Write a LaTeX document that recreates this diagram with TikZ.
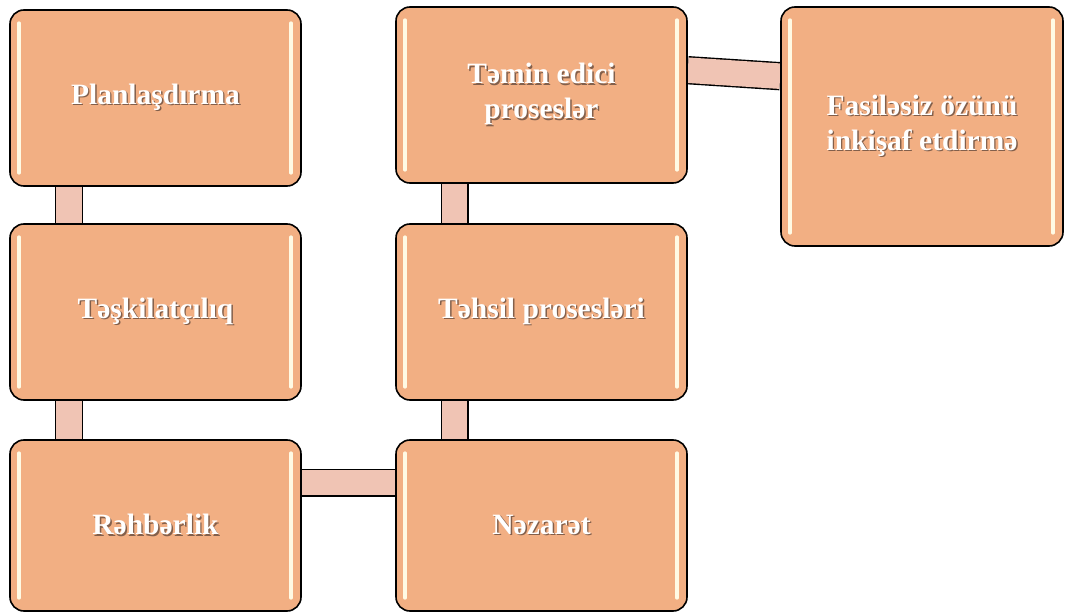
\documentclass[tikz,border=0pt]{standalone}
\usepackage{fontspec}
\setmainfont{Liberation Serif}
\usetikzlibrary{backgrounds}

\definecolor{boxfill}{RGB}{242,175,131}
\definecolor{barfill}{RGB}{240,196,180}
\definecolor{glint}{RGB}{255,250,228}
\definecolor{txtshade}{RGB}{130,95,75}
\newcommand{\shadetxt}[1]{\rlap{\hspace{1.4pt}\raisebox{-1.4pt}{\textcolor{txtshade}{#1}}}#1}

\tikzset{
  stage/.style={draw=black, line width=1.6pt, fill=boxfill, rounded corners=14pt,
    minimum width=291pt, minimum height=176pt, inner sep=0pt, align=center,
    text=white, font=\bfseries\fontsize{29.5}{35}\selectfont,
    path picture={
      \draw[glint, line width=3.2pt, line cap=round]
        ([xshift=9pt,yshift=-13pt]path picture bounding box.north west) --
        ([xshift=9pt,yshift=13pt]path picture bounding box.south west);
      \draw[glint, line width=3.2pt, line cap=round]
        ([xshift=-10pt,yshift=-13pt]path picture bounding box.north east) --
        ([xshift=-10pt,yshift=13pt]path picture bounding box.south east);
    }},
  link/.style={draw=black, line width=1.4pt, double=barfill, double distance=25.5pt}
}

\begin{document}
\begin{tikzpicture}[x=1pt,y=1pt]
\useasboundingbox (0,0) rectangle (1065,-612);
% left column
\node[stage] (plan) at (155.5,-98) {\shadetxt{Planlaşdırma}};
\node[stage] (teskil) at (155.5,-312) {\shadetxt{Təşkilatçılıq}};
\node[stage, minimum height=171pt] (rehber) at (155.5,-525.5) {\shadetxt{Rəhbərlik}};
% middle column
\node[stage] (temin) at (541.5,-95) {\shadetxt{Təmin edici}\\\shadetxt{proseslər}};
\node[stage] (tehsil) at (541.5,-312) {\shadetxt{Təhsil prosesləri}};
\node[stage, minimum height=171pt] (nezaret) at (541.5,-525.5) {\shadetxt{Nəzarət}};
% right
\node[stage, minimum width=282pt, minimum height=239pt] (fasil) at (922,-126.5)
  {\shadetxt{Fasiləsiz özünü}\\\shadetxt{inkişaf etdirmə}};
% bars
\begin{scope}[on background layer]
\draw[link] ([xshift=60pt]plan.south west) -- ([xshift=60pt]teskil.north west);
\draw[link] ([xshift=60pt]teskil.south west) -- ([xshift=60pt]rehber.north west);
\draw[link] ([yshift=-43.5pt]rehber.north east) -- ([yshift=-43.5pt]nezaret.north west);
\draw[link] ([xshift=59.5pt]nezaret.north west) -- ([xshift=59.5pt]tehsil.south west);
\draw[link] ([xshift=59.5pt]tehsil.north west) -- ([xshift=59.5pt]temin.south west);
\draw[link] ([yshift=-64pt]temin.north east) -- ([yshift=-70pt]fasil.north west);
\end{scope}
\end{tikzpicture}
\end{document}
